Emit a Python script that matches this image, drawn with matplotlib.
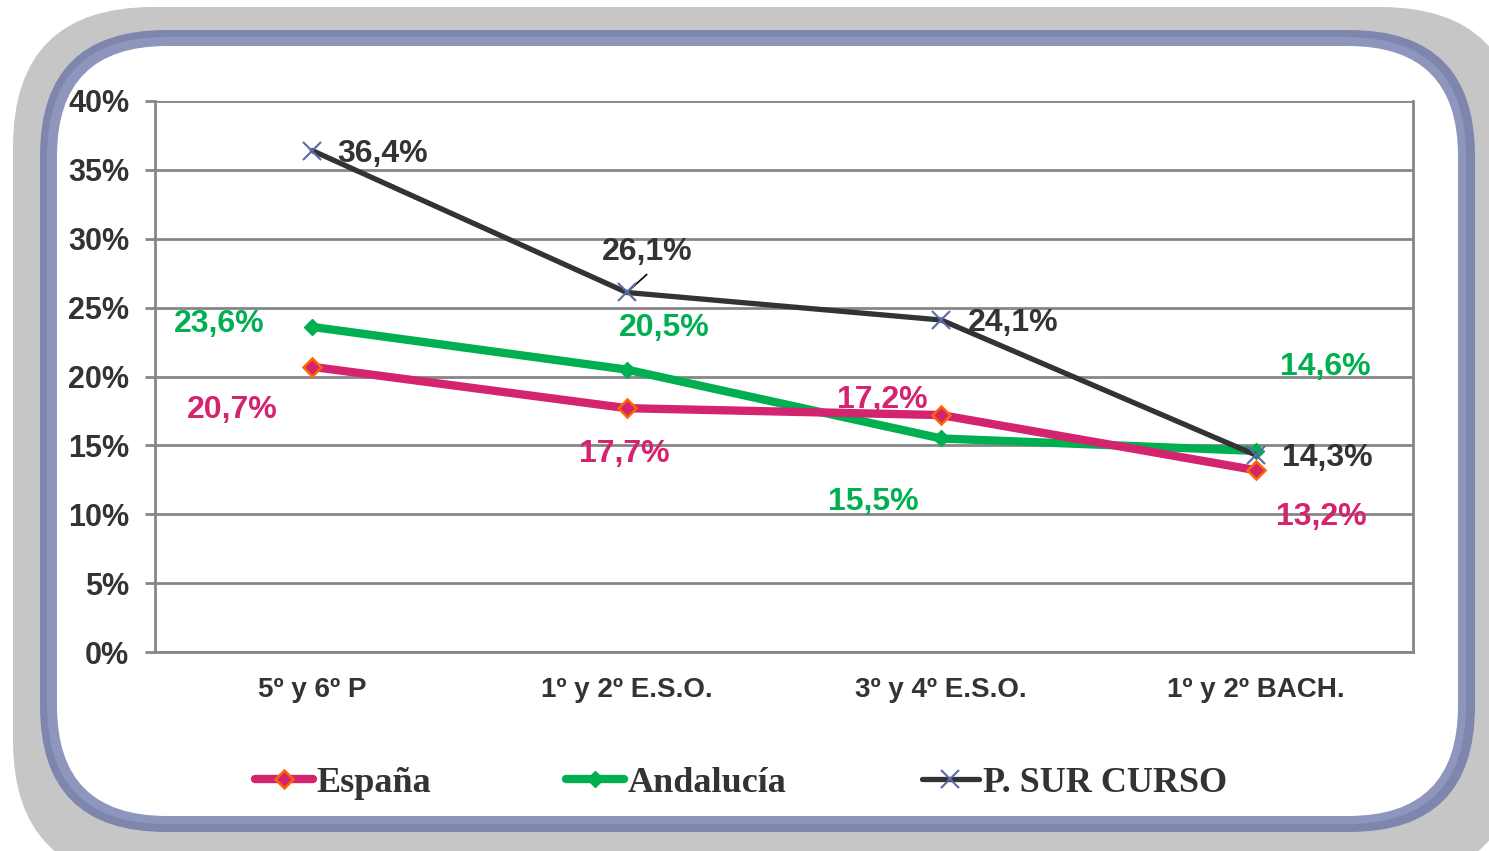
import matplotlib.pyplot as plt
from matplotlib.patches import FancyBboxPatch
from matplotlib.lines import Line2D

# data
categories = ["5º y 6º P", "1º y 2º E.S.O.", "3º y 4º E.S.O.", "1º y 2º BACH."]
espana = [20.7, 17.7, 17.2, 13.2]
andalucia = [23.6, 20.5, 15.5, 14.6]
psur = [36.4, 26.1, 24.1, 14.3]
series_names = ["España", "Andalucía", "P. SUR CURSO"]

W, H = 1489, 851
fig = plt.figure(figsize=(W / 100, H / 100), dpi=100)
fig.patch.set_facecolor("white")

# rounded frame, drawn in pixel coords
bg = fig.add_axes([0, 0, 1, 1])
bg.set_xlim(0, W)
bg.set_ylim(H, 0)
bg.axis("off")
bg.add_patch(FancyBboxPatch((13 + 140, 7 + 140), 1520 - 13 - 280, 880 - 7 - 280,
                            boxstyle="round,pad=140", fc="#c6c6c6", ec="none"))
bg.add_patch(FancyBboxPatch((40 + 126, 30 + 126), 1475 - 40 - 252, 832 - 30 - 252,
                            boxstyle="round,pad=126", fc="#7f86ae", ec="none"))
bg.add_patch(FancyBboxPatch((47 + 119, 37 + 119), 1466 - 47 - 238, 824 - 37 - 238,
                            boxstyle="round,pad=119", fc="#8e96be", ec="none"))
bg.add_patch(FancyBboxPatch((57 + 110, 46 + 110), 1458 - 57 - 220, 816 - 46 - 220,
                            boxstyle="round,pad=110", fc="white", ec="none"))

left, right, top, bottom = 155, 1413, 101, 652
ax = fig.add_axes([left / W, 1 - bottom / H, (right - left) / W, (bottom - top) / H])
ax.set_facecolor("none")

x = range(len(categories))
c_esp, c_and, c_sur = "#d4236f", "#00b050", "#333333"
ax.plot(x, espana, color=c_esp, lw=6, marker="D", ms=9, mfc=c_esp, mec="#ff6600",
        mew=1.8, solid_capstyle="round", zorder=4)
ax.plot(x, andalucia, color=c_and, lw=6, marker="D", ms=8, mfc=c_and, mec=c_and,
        solid_capstyle="round", zorder=3)
ax.plot(x, psur, color=c_sur, lw=3.8, marker="x", ms=13, mec="#5b6aa8", mew=1.5,
        solid_capstyle="round", zorder=5)

ax.set_xlim(-0.5, 3.5)
ax.set_ylim(0, 40)
ax.set_yticks(range(0, 41, 5))
ax.set_yticklabels([f"{v}%" for v in range(0, 41, 5)])
ax.set_xticks(list(x))
ax.set_xticklabels(categories)
ax.grid(axis="y", color="#868686", lw=2)
ax.set_axisbelow(True)
for s in ax.spines.values():
    s.set_color("#868686")
    s.set_linewidth(2)
ax.spines["top"].set_visible(False)
ax.tick_params(axis="y", length=7, width=2, color="#868686", pad=11.5,
               labelsize=22, labelcolor="#333333")
ax.tick_params(axis="x", length=0, pad=18, labelsize=20, labelcolor="#333333")
for t in ax.get_xticklabels() + ax.get_yticklabels():
    t.set_fontfamily("Liberation Sans")
    t.set_fontweight("bold")

# data labels (offsets in pixels from the point)
lab_font = dict(fontsize=23, fontweight="bold", family="Liberation Sans",
                ha="center", va="center")
esp_off = [(-80, -43), (-2, -46), (-59, 15), (66, -47)]
and_off = [(-93, 3), (37, 42), (-68, -64), (70, 84)]
sur_off = [(70, -3), (20, 40), (72, -3), (72, -3)]
for i in x:
    ax.annotate(f"{espana[i]:.1f}%".replace(".", ","), (i, espana[i]),
                xytext=esp_off[i], textcoords="offset pixels", color=c_esp, **lab_font)
    ax.annotate(f"{andalucia[i]:.1f}%".replace(".", ","), (i, andalucia[i]),
                xytext=and_off[i], textcoords="offset pixels", color=c_and, **lab_font)
    ax.annotate(f"{psur[i]:.1f}%".replace(".", ","), (i, psur[i]),
                xytext=sur_off[i], textcoords="offset pixels", color=c_sur, **lab_font)
# leader line for 26,1%
ax.annotate("", (1, psur[1]), xytext=(20, 18), textcoords="offset pixels",
            arrowprops=dict(arrowstyle="-", color="black", lw=1.2, shrinkA=0, shrinkB=0))

handles = [
    Line2D([], [], color=c_esp, lw=6, marker="D", ms=9, mfc=c_esp, mec="#ff6600",
           mew=1.8, solid_capstyle="round"),
    Line2D([], [], color=c_and, lw=6, marker="D", ms=8, mfc=c_and, mec=c_and,
           solid_capstyle="round"),
    Line2D([], [], color=c_sur, lw=3.8, marker="x", ms=13, mec="#5b6aa8", mew=1.5,
           solid_capstyle="round"),
]
fig.legend(handles, series_names, loc="center", bbox_to_anchor=(741 / W, 1 - 783 / H),
           ncol=3, frameon=False, handlelength=1.6, handletextpad=0.1,
           columnspacing=3.74, labelcolor="#333333",
           prop=dict(family="Liberation Serif", weight="bold", size=26))

fig.savefig("out.png", dpi=100)
